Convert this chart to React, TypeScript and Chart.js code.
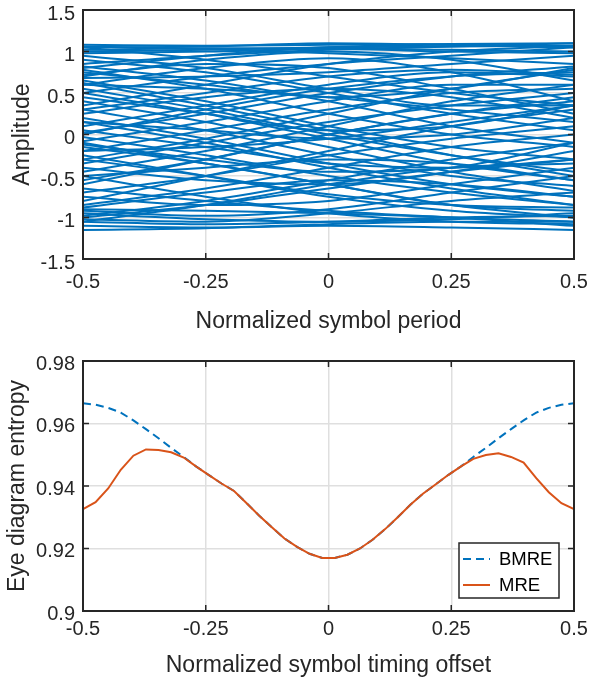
import React, { useEffect, useRef } from "react";
import { Chart, registerables } from "chart.js";

Chart.register(...registerables);

const FONT = "'Liberation Sans', Arial, Helvetica, sans-serif";
const TEXT = "#262626";
const GRID = "#dfdfdf";
const BLUE = "#0072BD";
const ORANGE = "#D95319";

// ---------- top panel: eye diagram ----------
const symbolPhase = [-0.5, -0.25, 0, 0.25, 0.5];
const phaseTicks = [-0.5, -0.25, 0, 0.25, 0.5];
const phaseTickLabels = ["-0.5", "-0.25", "0", "0.25", "0.5"];
const amplitudeTicks = [-1.5, -1, -0.5, 0, 0.5, 1, 1.5];
const amplitudeTickLabels = ["-1.5", "-1", "-0.5", "0", "0.5", "1", "1.5"];

// amplitude of each trace at the symbolPhase positions
const eyeTraces: number[][] = [
  [1.08, 1.07, 1.08, 1.09, 1.1],
  [1.05, 1.06, 1.1, 1.08, 1.05],
  [1.0, 1.02, 1.05, 1.06, 1.07],
  [0.98, 1.0, 1.03, 1.0, 0.98],
  [1.06, 1.03, 0.98, 0.92, 0.85],
  [1.02, 1.04, 1.04, 1.02, 1.0],
  [0.8, 0.95, 1.05, 1.08, 1.05],
  [0.75, 0.6, 0.45, 0.55, 0.8],
  [0.7, 0.9, 1.0, 0.9, 0.65],
  [0.65, 0.4, 0.1, -0.15, -0.3],
  [0.6, 0.8, 0.92, 0.75, 0.4],
  [0.82, 0.65, 0.4, 0.1, -0.1],
  [0.78, 0.55, 0.25, 0.0, -0.15],
  [0.72, 0.85, 0.8, 0.55, 0.25],
  [0.55, 0.3, 0.0, -0.25, -0.45],
  [0.5, 0.7, 0.85, 0.95, 1.05],
  [0.45, 0.25, 0.05, 0.1, 0.35],
  [0.35, 0.6, 0.85, 1.0, 1.07],
  [0.3, 0.05, -0.25, -0.5, -0.62],
  [0.25, 0.45, 0.55, 0.45, 0.2],
  [0.2, -0.05, -0.35, -0.6, -0.75],
  [0.1, 0.35, 0.6, 0.75, 0.7],
  [0.05, -0.15, -0.35, -0.4, -0.3],
  [0.0, 0.3, 0.55, 0.7, 0.75],
  [-0.03, -0.25, -0.5, -0.7, -0.85],
  [-0.08, 0.15, 0.4, 0.6, 0.6],
  [-0.15, -0.35, -0.6, -0.85, -1.0],
  [-0.2, 0.05, 0.3, 0.5, 0.55],
  [-0.3, -0.5, -0.72, -0.85, -0.88],
  [-0.35, -0.1, 0.15, 0.35, 0.5],
  [-0.4, -0.55, -0.6, -0.45, -0.2],
  [-0.5, -0.75, -0.95, -1.05, -1.08],
  [-0.55, -0.3, 0.0, 0.25, 0.45],
  [-0.7, -0.5, -0.25, -0.05, 0.1],
  [-0.85, -0.65, -0.4, -0.15, 0.0],
  [-0.88, -0.7, -0.55, -0.6, -0.75],
  [-0.92, -0.98, -0.9, -0.7, -0.5],
  [-0.95, -1.02, -1.05, -1.02, -0.95],
  [-1.0, -0.85, -0.65, -0.45, -0.3],
  [-1.05, -1.08, -1.05, -1.0, -0.98],
  [-1.1, -1.12, -1.1, -1.12, -1.15],
  [-1.15, -1.13, -1.08, -1.05, -1.05],
  [-0.98, -0.8, -0.55, -0.3, -0.1],
  [-1.02, -1.05, -0.95, -0.8, -0.7],
  [0.62, 0.35, 0.05, -0.25, -0.5],
  [0.4, 0.15, -0.15, -0.45, -0.68],
  [0.15, -0.1, -0.4, -0.65, -0.85],
  [-0.1, -0.35, -0.6, -0.85, -0.92],
  [-0.25, -0.5, -0.75, -0.92, -1.0],
  [0.5, 0.25, -0.05, -0.35, -0.55],
  [1.05, 0.9, 0.7, 0.5, 0.35],
  [0.85, 0.95, 1.02, 1.06, 1.1],
  [-0.8, -0.5, -0.2, 0.1, 0.3],
  [-0.6, -0.3, 0.0, 0.25, 0.4],
  [-0.45, -0.2, 0.1, 0.4, 0.6],
  [-1.05, -0.85, -0.6, -0.4, -0.35],
  [0.02, 0.25, 0.5, 0.7, 0.82],
  [-0.3, -0.05, 0.25, 0.55, 0.78],
  [0.3, 0.5, 0.7, 0.78, 0.72],
  [-0.12, -0.3, -0.45, -0.4, -0.1],
  [0.68, 0.7, 0.75, 0.85, 0.95],
  [-0.65, -0.8, -0.92, -1.0, -1.05],
  [0.9, 0.75, 0.5, 0.25, 0.05],
  [-0.9, -0.92, -0.95, -1.0, -1.1],
  [0.6, 0.55, 0.45, 0.3, 0.15],
  [-0.75, -0.85, -0.8, -0.6, -0.4],
  [0.95, 0.8, 0.55, 0.35, 0.35],
  [-0.5, -0.4, -0.3, -0.35, -0.55],
  [0.15, 0.05, -0.05, 0.0, 0.2],
  [-0.2, -0.15, -0.05, 0.15, 0.35],
];

// ---------- bottom panel: entropy vs timing offset ----------
const timingOffset = [
  -0.5, -0.4744, -0.4487, -0.4231, -0.3974, -0.3718, -0.3462, -0.3205, -0.2949, -0.2692,
  -0.2436, -0.2179, -0.1923, -0.1667, -0.141, -0.1154, -0.0897, -0.0641, -0.0385, -0.0128,
  0.0128, 0.0385, 0.0641, 0.0897, 0.1154, 0.141, 0.1667, 0.1923, 0.2179, 0.2436,
  0.2692, 0.2949, 0.3205, 0.3462, 0.3718, 0.3974, 0.4231, 0.4487, 0.4744, 0.5,
];
const bmreEntropy = [
  0.9665, 0.966, 0.965, 0.9635, 0.961, 0.9582, 0.9553, 0.9522, 0.9493, 0.9462,
  0.9435, 0.9408, 0.9384, 0.9345, 0.9305, 0.9268, 0.9232, 0.9205, 0.9183, 0.917,
  0.917, 0.918, 0.92, 0.9228, 0.9262, 0.93, 0.934, 0.9375, 0.9405, 0.9435,
  0.9462, 0.9493, 0.9522, 0.9553, 0.9582, 0.961, 0.9635, 0.965, 0.966, 0.9665,
];
const mreEntropy = [
  0.9326, 0.9348, 0.9392, 0.9452, 0.9497, 0.9517, 0.9515, 0.9508, 0.9491, 0.9462,
  0.9435, 0.9408, 0.9384, 0.9345, 0.9305, 0.9268, 0.9232, 0.9205, 0.9183, 0.917,
  0.917, 0.918, 0.92, 0.9228, 0.9262, 0.93, 0.934, 0.9375, 0.9405, 0.9435,
  0.9462, 0.9487, 0.9499, 0.9505, 0.9493, 0.9475, 0.9425, 0.938, 0.9345, 0.9326,
];
const entropyTicks = [0.9, 0.92, 0.94, 0.96, 0.98];
const entropyTickLabels = ["0.9", "0.92", "0.94", "0.96", "0.98"];
const legendLabels = ["BMRE", "MRE"];

const W = 591;
const TOP_H = 335;
const BOT_H = 344;

function labelFor(ticks: number[], labels: string[]) {
  return (v: any) => {
    const i = ticks.findIndex((t) => Math.abs(t - Number(v)) < 1e-9);
    return i >= 0 ? labels[i] : "";
  };
}

const boxPlugin = {
  id: "matlabBox",
  afterDatasetsDraw(chart: any) {
    const { ctx, chartArea: a, scales } = chart;
    const tl = 6;
    ctx.save();
    ctx.strokeStyle = TEXT;
    ctx.lineWidth = 1.5;
    ctx.beginPath();
    scales.x.ticks.forEach((t: any) => {
      const px = scales.x.getPixelForValue(t.value);
      ctx.moveTo(px, a.bottom);
      ctx.lineTo(px, a.bottom - tl);
      ctx.moveTo(px, a.top);
      ctx.lineTo(px, a.top + tl);
    });
    scales.y.ticks.forEach((t: any) => {
      const py = scales.y.getPixelForValue(t.value);
      ctx.moveTo(a.left, py);
      ctx.lineTo(a.left + tl, py);
      ctx.moveTo(a.right, py);
      ctx.lineTo(a.right - tl, py);
    });
    ctx.stroke();
    ctx.lineWidth = 2;
    ctx.strokeRect(a.left, a.top, a.right - a.left, a.bottom - a.top);
    ctx.restore();
  },
};

const insideLegendPlugin = {
  id: "insideLegend",
  afterDraw(chart: any) {
    const { ctx, chartArea: a } = chart;
    const bw = 100;
    const bh = 55;
    const x0 = a.right - 15 - bw;
    const y0 = a.bottom - 13 - bh;
    ctx.save();
    ctx.fillStyle = "#ffffff";
    ctx.fillRect(x0, y0, bw, bh);
    ctx.strokeStyle = TEXT;
    ctx.lineWidth = 1.5;
    ctx.strokeRect(x0, y0, bw, bh);
    legendLabels.forEach((lab, k) => {
      const ds = chart.data.datasets.find((d: any) => d.label === lab);
      const cy = y0 + 16 + k * 26;
      ctx.strokeStyle = ds.borderColor;
      ctx.lineWidth = 2;
      ctx.setLineDash(ds.borderDash || []);
      ctx.beginPath();
      ctx.moveTo(x0 + 4, cy);
      ctx.lineTo(x0 + 31, cy);
      ctx.stroke();
      ctx.setLineDash([]);
      ctx.fillStyle = "#000000";
      ctx.font = `18.5px ${FONT}`;
      ctx.textBaseline = "middle";
      ctx.textAlign = "left";
      ctx.fillText(lab, x0 + 40, cy + 1);
    });
    ctx.restore();
  },
};

function axisOptions(opts: {
  xTitle: string;
  yTitle: string;
  yMin: number;
  yMax: number;
  yTicks: number[];
  yLabels: string[];
  xHeight: number;
  xTickPad: number;
  xTitlePad: number;
  yTitlePad: number;
  yLabelOffset: number;
}) {
  const tickFont = { family: FONT, size: 20, lineHeight: 1.2 };
  const titleFont = { family: FONT, size: 23, lineHeight: 1.2 };
  return {
    x: {
      type: "linear",
      min: -0.5,
      max: 0.5,
      afterBuildTicks: (s: any) => {
        s.ticks = phaseTicks.map((value) => ({ value }));
      },
      afterFit: (s: any) => {
        s.height = opts.xHeight;
        s.paddingLeft = 0;
        s.paddingRight = 0;
      },
      grid: { color: GRID, lineWidth: 1.5, drawTicks: false },
      border: { display: false },
      ticks: {
        font: tickFont,
        color: TEXT,
        padding: opts.xTickPad,
        maxRotation: 0,
        autoSkip: false,
        callback: labelFor(phaseTicks, phaseTickLabels),
      },
      title: {
        display: true,
        text: opts.xTitle,
        font: titleFont,
        color: TEXT,
        padding: { top: opts.xTitlePad, bottom: 0 },
      },
    },
    y: {
      type: "linear",
      min: opts.yMin,
      max: opts.yMax,
      afterBuildTicks: (s: any) => {
        s.ticks = opts.yTicks.map((value) => ({ value }));
      },
      afterFit: (s: any) => {
        s.width = 83;
        s.paddingTop = 0;
        s.paddingBottom = 0;
      },
      grid: { color: GRID, lineWidth: 1.5, drawTicks: false },
      border: { display: false },
      ticks: {
        font: tickFont,
        color: TEXT,
        padding: 8,
        labelOffset: opts.yLabelOffset,
        autoSkip: false,
        callback: labelFor(opts.yTicks, opts.yLabels),
      },
      title: {
        display: true,
        text: opts.yTitle,
        font: titleFont,
        color: TEXT,
        padding: { top: opts.yTitlePad, bottom: 0 },
      },
    },
  };
}

export default function App() {
  const topRef = useRef<HTMLCanvasElement | null>(null);
  const botRef = useRef<HTMLCanvasElement | null>(null);

  useEffect(() => {
    const topChart = new Chart(topRef.current as HTMLCanvasElement, {
      type: "line",
      data: {
        datasets: eyeTraces.map((trace, i) => ({
          label: `trace ${i + 1}`,
          data: trace.map((y, j) => ({ x: symbolPhase[j], y })),
          borderColor: BLUE,
          borderWidth: 2,
          pointRadius: 0,
          cubicInterpolationMode: "monotone",
          fill: false,
        })),
      },
      options: {
        animation: false,
        responsive: false,
        events: [],
        layout: { padding: { left: 0, right: 17, top: 10, bottom: 0 } },
        plugins: { legend: { display: false }, tooltip: { enabled: false } },
        scales: axisOptions({
          xTitle: "Normalized symbol period",
          yTitle: "Amplitude",
          yMin: -1.5,
          yMax: 1.5,
          yTicks: amplitudeTicks,
          yLabels: amplitudeTickLabels,
          xHeight: 76,
          xTickPad: 11,
          xTitlePad: 7,
          yTitlePad: 9,
          yLabelOffset: 4,
        }) as any,
      } as any,
      plugins: [boxPlugin],
    });

    const botChart = new Chart(botRef.current as HTMLCanvasElement, {
      type: "line",
      data: {
        datasets: [
          {
            label: "BMRE",
            data: bmreEntropy.map((y, i) => ({ x: timingOffset[i], y })),
            borderColor: BLUE,
            borderWidth: 2,
            borderDash: [8, 5],
            pointRadius: 0,
            tension: 0,
            fill: false,
            order: 1,
          },
          {
            label: "MRE",
            data: mreEntropy.map((y, i) => ({ x: timingOffset[i], y })),
            borderColor: ORANGE,
            borderWidth: 2,
            pointRadius: 0,
            tension: 0,
            fill: false,
            order: 0,
          },
        ],
      },
      options: {
        animation: false,
        responsive: false,
        events: [],
        layout: { padding: { left: 0, right: 17, top: 26, bottom: 0 } },
        plugins: { legend: { display: false }, tooltip: { enabled: false } },
        scales: axisOptions({
          xTitle: "Normalized symbol timing offset",
          yTitle: "Eye diagram entropy",
          yMin: 0.9,
          yMax: 0.98,
          yTicks: entropyTicks,
          yLabels: entropyTickLabels,
          xHeight: 68,
          xTickPad: 6,
          xTitlePad: 2,
          yTitlePad: 4,
          yLabelOffset: 3,
        }) as any,
      } as any,
      plugins: [boxPlugin, insideLegendPlugin],
    });

    return () => {
      topChart.destroy();
      botChart.destroy();
    };
  }, []);

  return (
    <div
      style={{
        position: "absolute",
        left: 0,
        top: 0,
        width: W,
        height: TOP_H + BOT_H,
        background: "#ffffff",
      }}
    >
      <canvas
        ref={topRef}
        width={W}
        height={TOP_H}
        style={{ display: "block", width: W, height: TOP_H }}
      />
      <canvas
        ref={botRef}
        width={W}
        height={BOT_H}
        style={{ display: "block", width: W, height: BOT_H }}
      />
    </div>
  );
}
